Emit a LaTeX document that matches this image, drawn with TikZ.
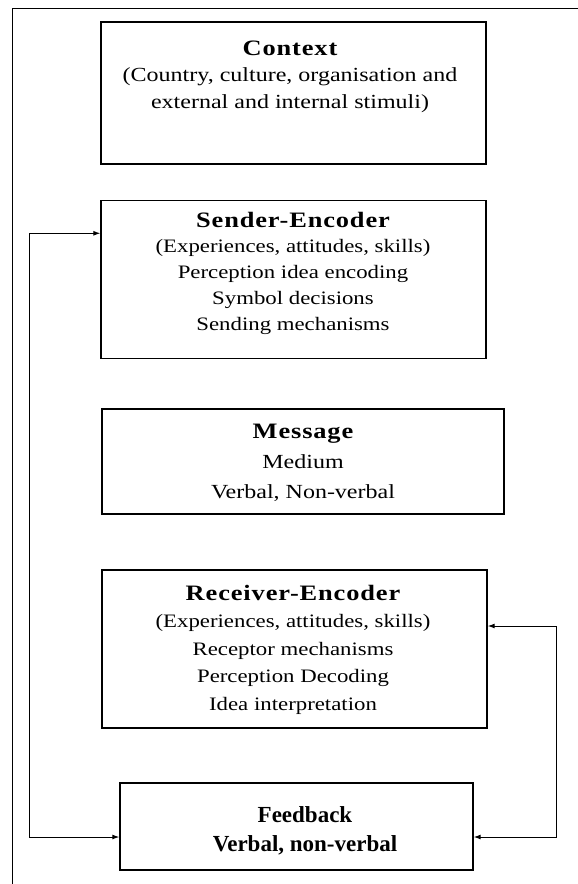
\documentclass[tikz,border=0pt]{standalone}
\usepackage{fontspec}
\setmainfont{Liberation Serif}[FakeStretch=1.2]
\newfontfamily\wideserif{Liberation Serif}
\usetikzlibrary{arrows.meta,fit}
% bold heading on the first line of each box
\newcommand\boxtitle[1]{{\fontsize{22}{26}\selectfont\bfseries\addfontfeature{LetterSpace=4}#1}}
\begin{document}
\begin{tikzpicture}[x=1pt,y=-1pt,
  box/.style={draw, line width=1.4pt, inner sep=0pt},
  label/.style={align=center, anchor=base, inner sep=0pt,
    font=\fontsize{20}{26}\selectfont},
  link/.style={line width=1pt, {Latex[length=7pt,width=5pt]}-{Latex[length=7pt,width=5pt]}}]
\useasboundingbox (0,0) rectangle (578,884);
% outer frame
\draw[line width=1pt] (12,884) -- (12,8) -- (578,8);
% boxes, given by their corners
\node[box, fit={(101,22) (486,164)}] (ctx) {};
\node[box, fit={(101,200.5) (486,358.5)}] (snd) {};
\node[box, fit={(102,409) (504,514)}] (msg) {};
\node[box, fit={(102,570) (487,728)}] (rcv) {};
\node[box, fit={(120,783) (473,870)}] (fb) {};
% texts (anchored at the baseline of their last line)
\node[label, font=\fontsize{20}{26.5}\selectfont] (ctxt) at (290,108)
  {\boxtitle{Context}\\(Country, culture, organisation and\\external and internal stimuli)};
\node[label, font=\fontsize{19}{25.75}\selectfont] (sndt) at (293,330)
  {\boxtitle{Sender-Encoder}\\(Experiences, attitudes, skills)\\Perception idea encoding\\Symbol decisions\\Sending mechanisms};
\node[label, font=\fontsize{20}{30}\selectfont] (msgt) at (303,498)
  {\boxtitle{Message}\\Medium\\Verbal, Non-verbal};
\node[label, font=\fontsize{19}{27.5}\selectfont] (rcvt) at (293,710)
  {\boxtitle{Receiver-Encoder}\\(Experiences, attitudes, skills)\\Receptor mechanisms\\Perception Decoding\\Idea interpretation};
\node[label, font=\wideserif\fontsize{23}{29}\bfseries\selectfont] (fbt) at (305,851)
  {Feedback\\Verbal, non-verbal};
% feedback loops
\draw[link] ([yshift=-33.5pt]snd.north west) -- ++(-70.5,0) |- ([yshift=-10.5pt]fb.west);
\draw[link] ([yshift=23pt]rcv.east) -- ++(69,0) |- ([yshift=-10.5pt]fb.east);
\end{tikzpicture}
\end{document}
